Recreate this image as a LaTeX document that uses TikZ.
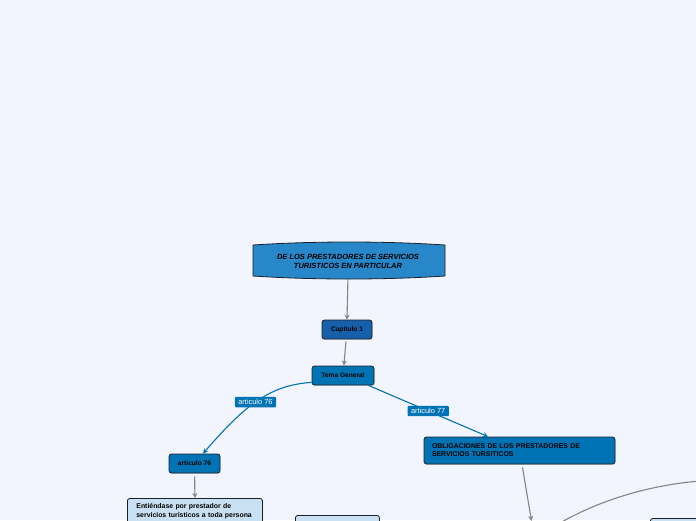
\documentclass[tikz,border=0pt]{standalone}
\usepackage{fontspec}
\setmainfont{Liberation Sans}
\usepackage{tikz}
\usetikzlibrary{arrows.meta, positioning, shadows}
\definecolor{pagebg}{RGB}{242,245,254}
\definecolor{mapdark}{RGB}{28,34,44}
\definecolor{titleblue}{RGB}{40,135,200}
\definecolor{capblue}{RGB}{22,95,170}
\definecolor{mapblue}{RGB}{0,115,180}
\definecolor{paleblue}{RGB}{200,224,242}
\definecolor{linkgray}{RGB}{130,132,138}
\newcommand{\mapfont}{\fontsize{6.6}{8}\selectfont\bfseries}
\newcommand{\bigmapfont}{\fontsize{6.9}{8}\selectfont\bfseries}
\tikzset{
  mapnode/.style={rectangle, draw=mapdark, fill=mapblue, rounded corners=2.5pt,
    line width=0.8pt, font=\mapfont, inner sep=2pt, align=center,
    drop shadow={shadow xshift=0.6pt, shadow yshift=-0.9pt, opacity=0.3}},
  capnode/.style={mapnode, fill=capblue},
  textnode/.style={mapnode, fill=paleblue, align=left, anchor=north west,
    inner xsep=9pt, inner ysep=5pt, font=\fontsize{6.9}{9}\selectfont\bfseries},
  emptynode/.style={mapnode, fill=paleblue, anchor=north west},
  titleshape/.style={draw=mapdark, fill=titleblue, line width=0.8pt},
  linklabel/.style={rectangle, fill=mapblue, text=white, rounded corners=1pt,
    inner xsep=3.5pt, inner ysep=2.5pt, font=\fontsize{7.4}{8}\selectfont},
  grayarrow/.style={-{Stealth[length=5pt, width=5pt]}, line width=1.1pt, color=linkgray},
  grayline/.style={line width=1.1pt, color=linkgray},
  bluearrow/.style={-{Stealth[length=5pt, width=5pt]}, line width=1.1pt, color=mapblue}
}

\begin{document}
\begin{tikzpicture}[x=1pt, y=-1pt]
  % Page background
  \useasboundingbox (0,0) rectangle (696,520);
  \fill[pagebg] (0,0) rectangle (696,520);
  \clip (0,0) rectangle (696,520);

  % Title shape
  \filldraw[titleshape] (253,245) .. controls (313,241) and (385,241) .. (445,245)
    -- (445,276) .. controls (385,280) and (313,280) .. (253,276) -- cycle;
  \node[font=\fontsize{7.5}{8.2}\selectfont\bfseries\itshape, align=center] (titulo) at (348,261.5)
    {DE LOS PRESTADORES DE SERVICIOS\\TURISTICOS EN PARTICULAR};

  % Main chain
  \node[capnode, minimum width=50pt, minimum height=19pt] (capitulo) at (347,329.5) {Capitulo 1};
  \node[mapnode, minimum width=62pt, minimum height=19pt] (tema) at (343,375.5) {Tema General};

  % Articles
  \node[mapnode, minimum width=51pt, minimum height=19pt] (art76) at (194.5,463.5) {articulo 76};
  \node[mapnode, font=\bigmapfont, align=left, text width=175pt, minimum height=27pt, inner xsep=8pt] (oblig) at (519.5,450.5)
    {OBLIGACIONES DE LOS PRESTADORES DE\\SERVICIOS TURSITICOS};

  % Lower boxes (cut by the page edge)
  \node[textnode, text width=117pt, minimum width=135pt, text depth=28pt] (entiendase) at (127,498)
    {Entiéndase por prestador de\\servicios turísticos a toda persona};
  \node[emptynode, minimum width=84pt, minimum height=30pt] (vacio) at (295,515) {};
  \node[emptynode, minimum width=60pt, minimum height=20pt] (margen) at (650,518) {};

  % Free ends below the page
  \coordinate (obligfin) at (531.5,521);
  \coordinate (arcoini) at (560,523);
  \coordinate (arcofin) at (700,481);

  % Connectors
  \draw[grayarrow, shorten <=3pt] (titulo.south) ++(0,4) -- (capitulo.north);
  \draw[grayarrow, shorten <=2pt] (capitulo) -- (tema);
  \draw[bluearrow] ([yshift=3pt]tema.south west) .. controls (270,385) and (245,405) .. ([xshift=8.5pt]art76.north)
    node[linklabel, pos=0.52] (lbl76) {articulo 76};
  \draw[bluearrow] ([xshift=-6pt]tema.south east) -- ([xshift=-31.5pt]oblig.north)
    node[linklabel, midway] (lbl77) {articulo 77};
  \draw[grayarrow, shorten <=3pt] (art76) -- (entiendase.north);
  \draw[grayarrow, shorten <=3pt] ([xshift=2.5pt]oblig.south) -- (obligfin);
  \draw[grayline] (arcoini) .. controls (600,500) and (650,485) .. (arcofin);
\end{tikzpicture}
\end{document}
